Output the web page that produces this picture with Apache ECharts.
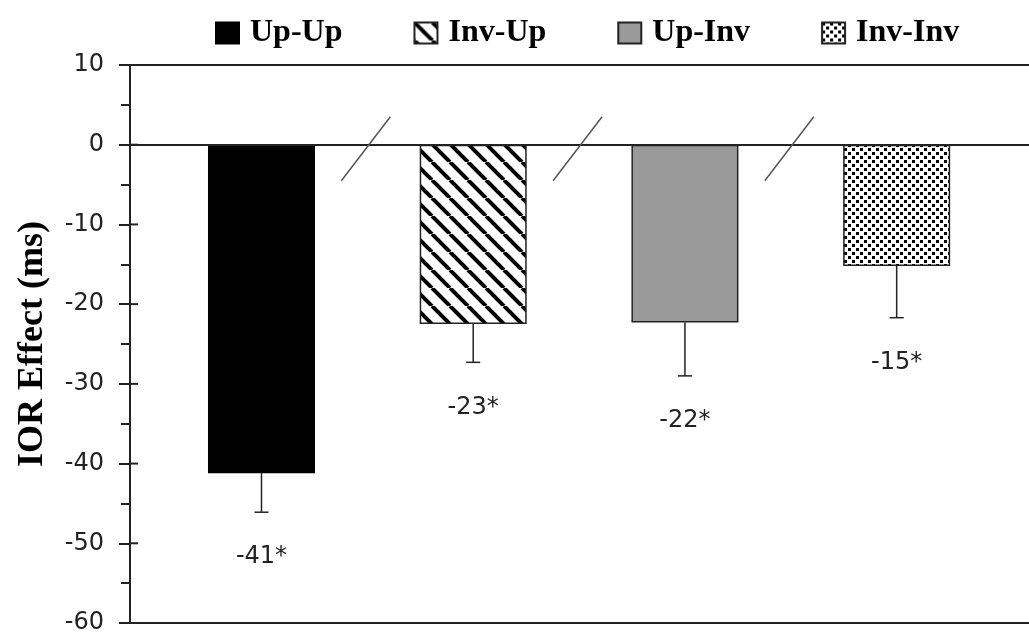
<!DOCTYPE html>
<html>
<head>
<meta charset="utf-8">
<script src="https://cdn.jsdelivr.net/npm/echarts@6/dist/echarts.min.js"></script>
<style>html,body{margin:0;padding:0;background:#fff;}#chart{width:1029px;height:641px;}</style>
</head>
<body>
<div id="chart"></div>
<script>
// ---- data ----
const categories = ['Up-Up', 'Inv-Up', 'Up-Inv', 'Inv-Inv'];
const values = [-41.2, -22.5, -22.3, -15.2];
const errors = [4.9, 4.8, 6.7, 6.5];
const valueLabels = ['-41*', '-23*', '-22*', '-15*'];
const yTicks = [10, 0, -10, -20, -30, -40, -50, -60];
const yMin = -60, yMax = 10, yStep = 10;
const yTitle = 'IOR Effect (ms)';

// ---- patterns ----
function stripePattern() {
  const s = 18, c = document.createElement('canvas');
  c.width = s; c.height = s;
  const g = c.getContext('2d');
  g.fillStyle = '#fff'; g.fillRect(0, 0, s, s);
  g.strokeStyle = '#000'; g.lineWidth = 4;
  for (const x0 of [-s, 0, s]) {
    g.beginPath(); g.moveTo(x0, 0); g.lineTo(x0 + s, s); g.stroke();
  }
  return c;
}
function dotPattern() {
  const s = 8, c = document.createElement('canvas');
  c.width = s; c.height = s;
  const g = c.getContext('2d');
  g.fillStyle = '#fff'; g.fillRect(0, 0, s, s);
  g.fillStyle = '#000';
  g.fillRect(0, 0, 3, 3);
  g.fillRect(4, 4, 3, 3);
  return c;
}

const fills = [
  '#000000',
  { image: stripePattern(), repeat: 'repeat' },
  '#999999',
  { image: dotPattern(), repeat: 'repeat' }
];

const xMin = 0.379, xMax = 4.625;
const xPos = categories.map((c, i) => i + 1);

const barSeries = categories.map((name, i) => ({
  type: 'bar',
  name: name,
  data: [[xPos[i], values[i]]],
  barWidth: 107,
  barGap: '-100%',
  itemStyle: { color: fills[i], borderColor: i === 0 ? '#000' : '#222', borderWidth: 1.5 },
  z: 2
}));

barSeries[0].markLine = {
  silent: true,
  symbol: 'none',
  label: { show: false },
  lineStyle: { color: '#222', width: 2, type: 'solid' },
  data: [{ yAxis: yMax }, { yAxis: 0 }, { yAxis: yMin }]
};

const errorSeries = {
  type: 'custom',
  name: 'err',
  data: categories.map((c, i) => [xPos[i], values[i], errors[i]]),
  encode: { x: 0, y: 1 },
  z: 5,
  renderItem: function (params, api) {
    const x = api.value(0), v = api.value(1), e = api.value(2);
    const p0 = api.coord([x, v]);
    const p1 = api.coord([x, v - e]);
    return {
      type: 'group',
      children: [
        { type: 'line', shape: { x1: p0[0], y1: p0[1], x2: p1[0], y2: p1[1] }, style: { stroke: '#222', lineWidth: 1.5 } },
        { type: 'line', shape: { x1: p1[0] - 7, y1: p1[1], x2: p1[0] + 7, y2: p1[1] }, style: { stroke: '#222', lineWidth: 1.5 } },
        { type: 'text', style: { text: valueLabels[params.dataIndex], x: p1[0], y: p1[1] + 45, align: 'center', verticalAlign: 'middle', fontSize: 24, fontFamily: 'DejaVu Sans', fill: '#222' } }
      ]
    };
  }
};

const breakSeries = {
  type: 'custom',
  name: 'breaks',
  data: xPos.slice(0, -1).map((x, i) => [(x + xPos[i + 1]) / 2, 0]),
  encode: { x: 0, y: 1 },
  z: 5,
  renderItem: function (params, api) {
    const p = api.coord([api.value(0), api.value(1)]);
    return { type: 'line', shape: { x1: p[0] - 26, y1: p[1] + 36, x2: p[0] + 23, y2: p[1] - 28 }, style: { stroke: '#555', lineWidth: 1.5 } };
  }
};

// inner half of the major ticks (they cross the axis line)
const innerTickSeries = {
  type: 'custom',
  name: 'innerTicks',
  data: yTicks.map(v => [xMin, v]),
  encode: { x: 0, y: 1 },
  z: 6,
  clip: false,
  silent: true,
  renderItem: function (params, api) {
    const p = api.coord([api.value(0), api.value(1)]);
    return { type: 'line', shape: { x1: p[0], y1: p[1], x2: p[0] + 8, y2: p[1] }, style: { stroke: '#222', lineWidth: 2 } };
  }
};

const chart = echarts.init(document.getElementById('chart'), null, { renderer: 'canvas' });
chart.setOption({
  animation: false,
  backgroundColor: '#fff',
  grid: { left: 130, right: 0, top: 65, bottom: 18, containLabel: false },
  legend: {
    data: categories,
    left: 210, top: 12,
    itemWidth: 23, itemHeight: 21, itemGap: 71,
    icon: 'rect',
    selectedMode: false,
    textStyle: { fontFamily: 'Liberation Serif', fontWeight: 'bold', fontSize: 32, color: '#000', width: 100, padding: [0, 0, 0, 6] }
  },
  xAxis: {
    type: 'value', min: xMin, max: xMax, show: false
  },
  yAxis: {
    type: 'value', min: yMin, max: yMax, interval: yStep,
    name: yTitle, nameLocation: 'middle', nameGap: 79, nameRotate: 90,
    nameTextStyle: { fontFamily: 'Liberation Serif', fontWeight: 'bold', fontSize: 36, color: '#000' },
    axisLine: { show: true, lineStyle: { color: '#222', width: 2 } },
    axisTick: { show: true, inside: false, length: 11, lineStyle: { color: '#222', width: 2 } },
    minorTick: { show: true, splitNumber: 2, length: 9, lineStyle: { color: '#222', width: 2 } },
    axisLabel: { margin: 26, fontFamily: 'DejaVu Sans', fontSize: 24, color: '#222' },
    splitLine: { show: false }
  },
  series: barSeries.concat([errorSeries, breakSeries, innerTickSeries])
});
</script>
</body>
</html>
